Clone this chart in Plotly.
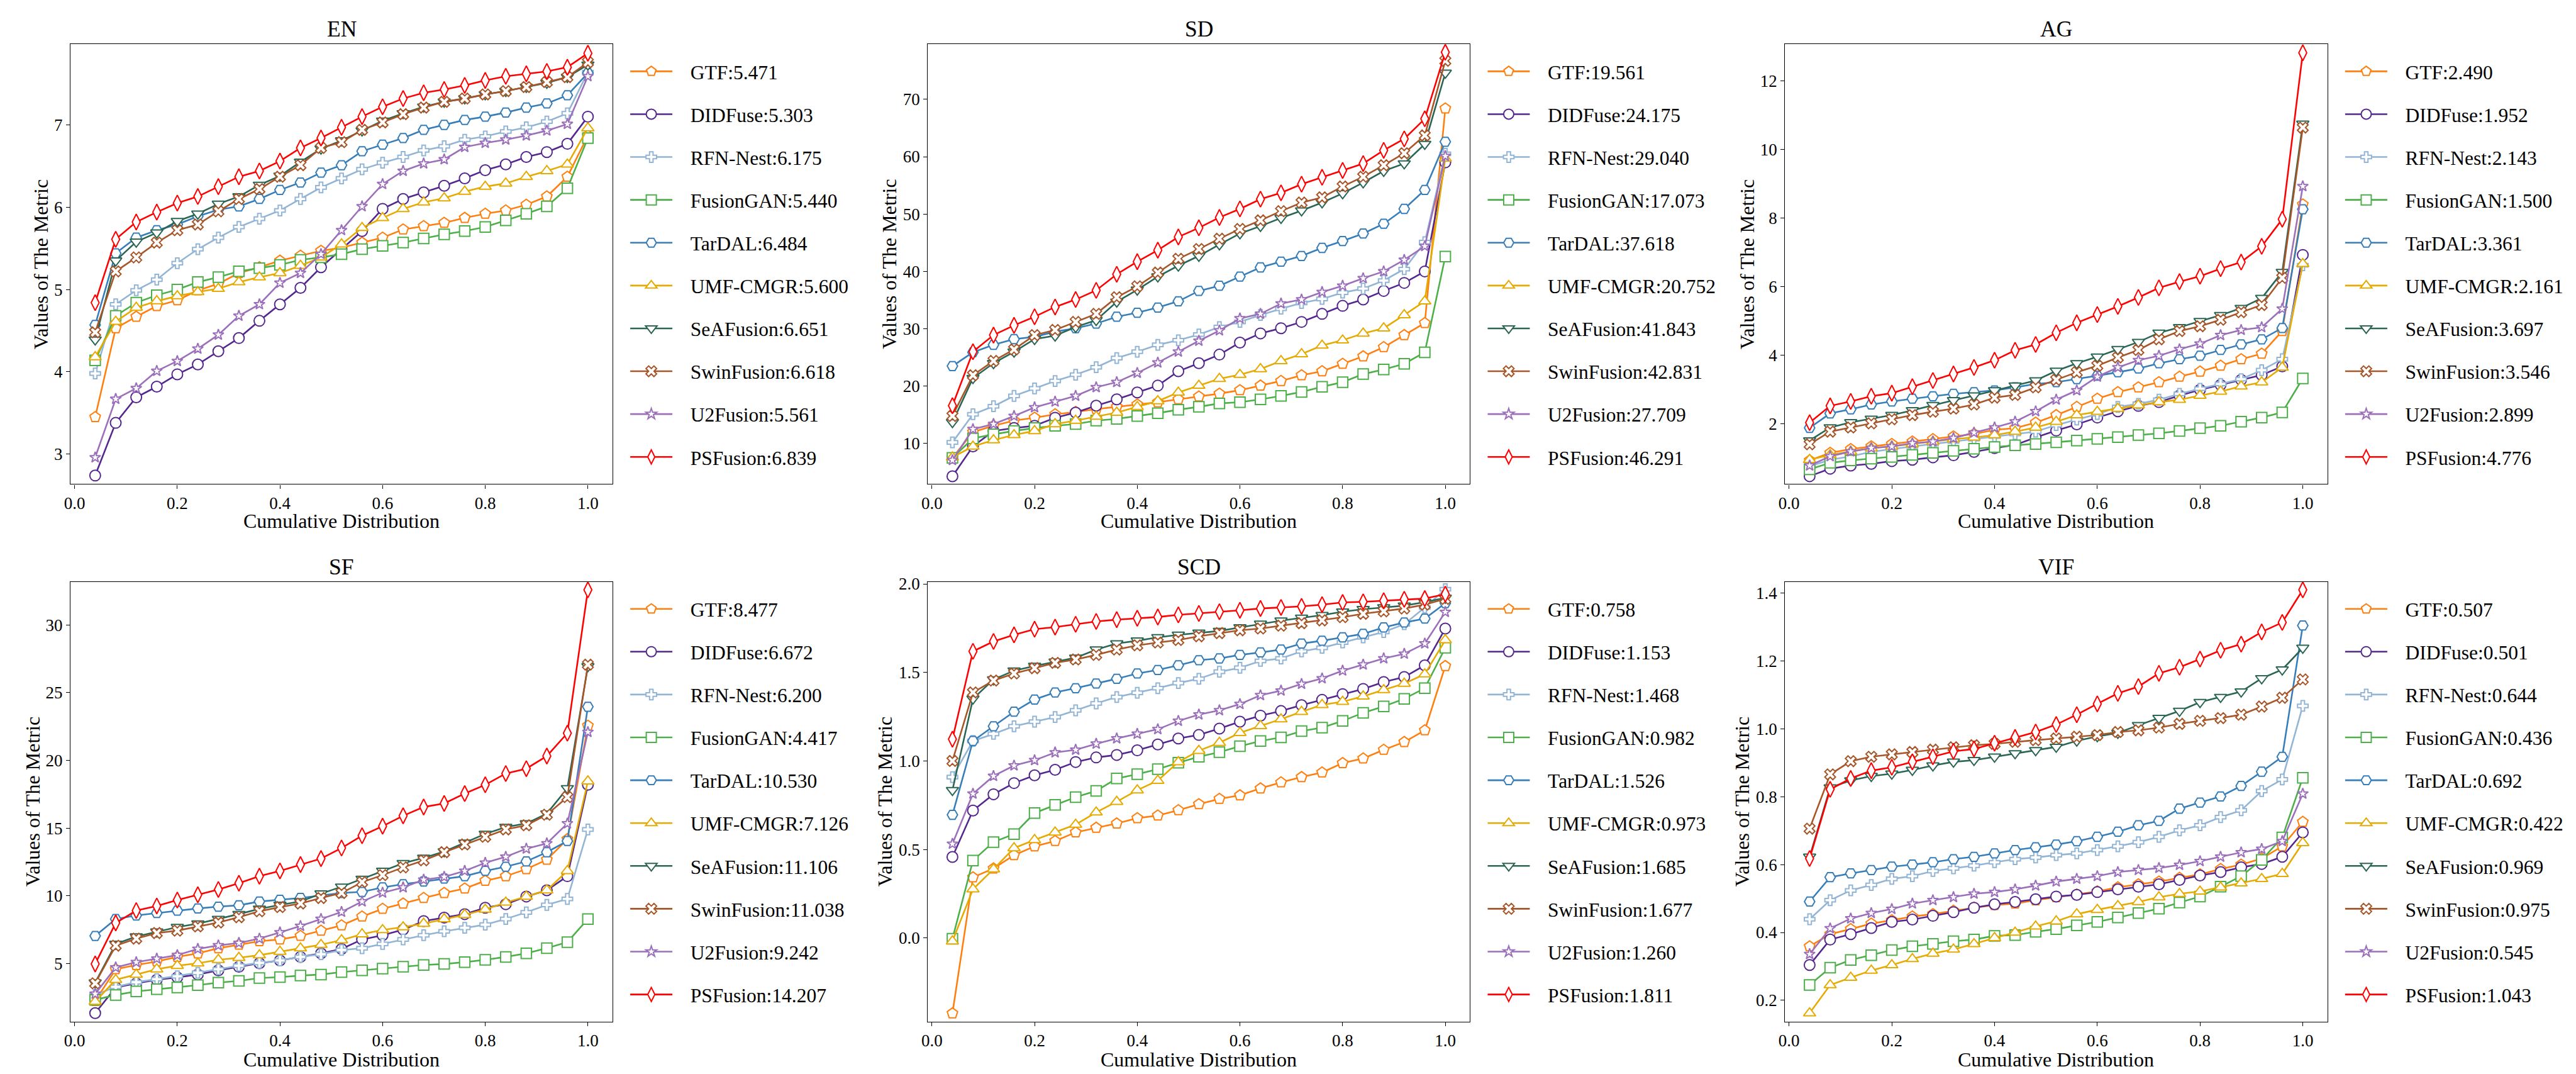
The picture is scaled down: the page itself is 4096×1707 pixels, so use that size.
import plotly.graph_objects as go

W, H = 4096, 1707
FONT = "Liberation Serif, Times New Roman, serif"

# ---------------- data ----------------
XS = [0.04, 0.08, 0.12, 0.16, 0.20, 0.24, 0.28, 0.32, 0.36, 0.40, 0.44, 0.48, 0.52,
      0.56, 0.60, 0.64, 0.68, 0.72, 0.76, 0.80, 0.84, 0.88, 0.92, 0.96, 1.00]

METHODS = ["GTF", "DIDFuse", "RFN-Nest", "FusionGAN", "TarDAL",
           "UMF-CMGR", "SeAFusion", "SwinFusion", "U2Fusion", "PSFusion"]

EN_GTF = [3.45, 4.53, 4.67, 4.80, 4.87, 4.99, 5.07, 5.20, 5.27, 5.35, 5.41, 5.47, 5.51, 5.57, 5.63, 5.73, 5.77, 5.81, 5.87, 5.92, 5.96, 6.03, 6.13, 6.37, 6.87]
EN_DIDFuse = [2.74, 3.38, 3.69, 3.82, 3.97, 4.09, 4.25, 4.41, 4.62, 4.82, 5.02, 5.27, 5.49, 5.71, 5.98, 6.10, 6.18, 6.26, 6.35, 6.45, 6.52, 6.61, 6.67, 6.77, 7.10]
EN_RFN = [3.98, 4.82, 4.99, 5.12, 5.32, 5.49, 5.63, 5.76, 5.86, 5.96, 6.10, 6.24, 6.35, 6.46, 6.54, 6.61, 6.69, 6.74, 6.82, 6.86, 6.92, 6.97, 7.04, 7.14, 7.64]
EN_FusionGAN = [4.14, 4.68, 4.84, 4.93, 5.00, 5.09, 5.15, 5.22, 5.26, 5.30, 5.36, 5.39, 5.43, 5.49, 5.53, 5.57, 5.62, 5.67, 5.71, 5.76, 5.84, 5.92, 6.01, 6.23, 6.84]
EN_TarDAL = [4.57, 5.44, 5.63, 5.72, 5.79, 5.89, 5.97, 6.01, 6.10, 6.21, 6.30, 6.42, 6.51, 6.68, 6.76, 6.84, 6.94, 7.00, 7.06, 7.10, 7.15, 7.21, 7.26, 7.36, 7.63]
EN_UMF = [4.18, 4.61, 4.78, 4.86, 4.92, 4.97, 5.01, 5.09, 5.15, 5.20, 5.29, 5.39, 5.55, 5.75, 5.87, 5.98, 6.06, 6.11, 6.19, 6.25, 6.29, 6.37, 6.44, 6.52, 6.96]
EN_SeAFusion = [4.39, 5.35, 5.58, 5.69, 5.83, 5.92, 6.04, 6.13, 6.27, 6.38, 6.55, 6.71, 6.81, 6.93, 7.05, 7.14, 7.22, 7.28, 7.32, 7.37, 7.41, 7.46, 7.51, 7.58, 7.73]
EN_SwinFusion = [4.48, 5.22, 5.39, 5.57, 5.72, 5.79, 5.95, 6.10, 6.22, 6.37, 6.51, 6.72, 6.79, 6.94, 7.03, 7.13, 7.21, 7.28, 7.32, 7.37, 7.41, 7.46, 7.52, 7.58, 7.76]
EN_U2Fusion = [2.96, 3.67, 3.80, 4.01, 4.13, 4.28, 4.45, 4.68, 4.82, 5.08, 5.20, 5.43, 5.72, 6.01, 6.28, 6.44, 6.53, 6.58, 6.73, 6.78, 6.82, 6.87, 6.93, 7.01, 7.59]
EN_PSFusion = [4.84, 5.61, 5.82, 5.94, 6.05, 6.13, 6.25, 6.37, 6.44, 6.56, 6.72, 6.84, 6.97, 7.10, 7.22, 7.32, 7.39, 7.43, 7.48, 7.54, 7.59, 7.62, 7.65, 7.70, 7.87]
EN_SCORES = ["5.471", "5.303", "6.175", "5.440", "6.484", "5.600", "6.651", "6.618", "5.561", "6.839"]

SD_GTF = [7.5, 12.0, 13.1, 14.0, 14.5, 15.1, 15.5, 16.0, 16.4, 16.8, 17.2, 17.7, 18.2, 18.7, 19.3, 20.1, 20.9, 21.9, 22.6, 23.9, 25.2, 26.8, 28.9, 31.0, 68.4]
SD_DIDFuse = [4.3, 9.5, 12.2, 12.7, 13.1, 14.5, 15.4, 16.6, 17.7, 18.9, 20.1, 22.6, 24.0, 25.5, 27.6, 29.2, 30.1, 31.2, 32.6, 34.0, 35.1, 36.6, 38.0, 40.0, 59.0]
SD_RFN = [10.2, 15.1, 16.5, 18.3, 19.6, 20.9, 22.0, 23.3, 24.9, 26.0, 27.2, 28.0, 29.0, 30.3, 31.2, 32.4, 33.5, 34.5, 35.2, 36.3, 37.0, 38.4, 40.4, 45.1, 60.5]
SD_FusionGAN = [7.5, 10.9, 11.6, 12.2, 12.7, 13.1, 13.4, 14.0, 14.3, 14.8, 15.3, 15.9, 16.4, 17.0, 17.2, 17.7, 18.3, 19.0, 19.9, 20.7, 22.1, 22.9, 23.9, 25.9, 42.6]
SD_TarDAL = [23.5, 25.9, 27.2, 28.2, 28.6, 29.5, 30.1, 30.9, 32.1, 32.8, 33.7, 34.8, 36.6, 37.5, 39.1, 40.7, 41.7, 42.7, 44.1, 45.3, 46.6, 48.3, 50.9, 54.2, 62.6]
SD_UMF = [7.6, 9.5, 10.6, 11.5, 12.2, 13.4, 14.0, 14.7, 15.4, 16.4, 17.4, 18.9, 20.1, 21.3, 22.0, 23.0, 24.4, 25.6, 27.1, 28.0, 29.2, 30.1, 32.4, 34.8, 59.7]
SD_SeAFusion = [13.7, 21.4, 24.0, 26.0, 28.2, 28.8, 30.3, 31.5, 34.7, 36.8, 39.1, 41.0, 42.7, 44.7, 46.6, 47.9, 49.3, 50.6, 52.0, 53.6, 55.5, 57.5, 58.8, 62.2, 74.6]
SD_SwinFusion = [14.8, 21.9, 24.4, 26.4, 28.9, 29.8, 31.2, 32.6, 35.5, 37.4, 39.8, 42.2, 43.9, 45.7, 47.4, 48.9, 50.5, 52.0, 52.9, 54.8, 56.5, 58.5, 60.6, 63.7, 76.7]
SD_U2Fusion = [7.1, 12.5, 13.4, 14.8, 16.3, 17.3, 18.3, 19.8, 20.7, 22.3, 24.1, 26.0, 27.9, 29.7, 31.8, 32.6, 34.4, 35.1, 36.4, 37.5, 38.8, 40.0, 42.0, 44.4, 60.1]
SD_PSFusion = [16.6, 26.0, 28.9, 30.6, 32.1, 33.8, 35.1, 36.7, 39.5, 41.7, 43.7, 46.0, 47.6, 49.4, 50.9, 52.6, 53.7, 55.2, 56.4, 57.6, 58.8, 61.1, 63.1, 66.6, 78.2]
SD_SCORES = ["19.561", "24.175", "29.040", "17.073", "37.618", "20.752", "41.843", "42.831", "27.709", "46.291"]

AG_GTF = [0.94, 1.16, 1.27, 1.35, 1.42, 1.49, 1.56, 1.64, 1.71, 1.83, 1.88, 2.04, 2.26, 2.50, 2.74, 2.93, 3.07, 3.22, 3.38, 3.53, 3.70, 3.89, 4.05, 4.71, 8.40]
AG_DIDFuse = [0.48, 0.70, 0.79, 0.84, 0.92, 0.96, 1.03, 1.09, 1.19, 1.30, 1.39, 1.61, 1.81, 1.99, 2.19, 2.37, 2.53, 2.64, 2.83, 3.00, 3.14, 3.29, 3.43, 3.68, 6.93]
AG_RFN = [0.77, 0.96, 1.06, 1.19, 1.27, 1.35, 1.42, 1.49, 1.56, 1.64, 1.71, 1.78, 1.97, 2.13, 2.29, 2.50, 2.59, 2.71, 2.88, 3.03, 3.17, 3.31, 3.57, 3.89, 6.63]
AG_FusionGAN = [0.68, 0.87, 0.94, 0.99, 1.04, 1.10, 1.16, 1.22, 1.28, 1.33, 1.38, 1.42, 1.47, 1.52, 1.57, 1.62, 1.68, 1.73, 1.80, 1.88, 1.95, 2.07, 2.19, 2.34, 3.33]
AG_TarDAL = [1.89, 2.31, 2.43, 2.57, 2.66, 2.74, 2.81, 2.88, 2.93, 2.98, 3.07, 3.17, 3.22, 3.31, 3.41, 3.51, 3.62, 3.77, 3.89, 3.99, 4.16, 4.32, 4.47, 4.80, 8.26]
AG_UMF = [0.96, 1.10, 1.20, 1.30, 1.35, 1.42, 1.49, 1.56, 1.61, 1.68, 1.78, 1.90, 2.07, 2.26, 2.36, 2.45, 2.55, 2.64, 2.71, 2.83, 2.95, 3.10, 3.22, 3.65, 6.67]
AG_SeAFusion = [1.52, 1.90, 2.05, 2.15, 2.26, 2.40, 2.55, 2.69, 2.83, 2.98, 3.12, 3.27, 3.55, 3.77, 3.96, 4.18, 4.39, 4.66, 4.82, 5.00, 5.17, 5.38, 5.67, 6.43, 10.75]
AG_SwinFusion = [1.41, 1.78, 1.90, 2.02, 2.14, 2.26, 2.36, 2.45, 2.57, 2.77, 2.85, 3.07, 3.29, 3.51, 3.70, 3.94, 4.16, 4.47, 4.71, 4.85, 5.04, 5.26, 5.47, 6.26, 10.64]
AG_U2Fusion = [0.79, 1.06, 1.20, 1.30, 1.35, 1.44, 1.49, 1.59, 1.75, 1.90, 2.07, 2.37, 2.71, 2.98, 3.38, 3.65, 3.86, 3.99, 4.18, 4.34, 4.59, 4.74, 4.82, 5.36, 8.93]
AG_PSFusion = [2.04, 2.53, 2.66, 2.81, 2.90, 3.09, 3.27, 3.46, 3.65, 3.86, 4.15, 4.32, 4.66, 4.95, 5.19, 5.43, 5.69, 5.97, 6.15, 6.31, 6.53, 6.72, 7.18, 7.97, 12.82]
AG_SCORES = ["2.490", "1.952", "2.143", "1.500", "3.361", "2.161", "3.697", "3.546", "2.899", "4.776"]

SF_GTF = [2.24, 4.58, 4.89, 5.15, 5.49, 5.75, 6.13, 6.39, 6.65, 6.78, 7.04, 7.43, 7.82, 8.47, 9.04, 9.43, 9.84, 10.21, 10.54, 11.11, 11.45, 11.97, 12.67, 14.18, 22.56]
SF_DIDFuse = [1.34, 3.23, 3.54, 3.80, 3.98, 4.19, 4.50, 4.76, 5.02, 5.23, 5.49, 5.75, 6.08, 6.78, 7.09, 7.51, 8.13, 8.39, 8.65, 9.12, 9.38, 9.95, 10.41, 11.45, 18.20]
SF_RFN = [2.68, 3.28, 3.62, 3.85, 4.06, 4.32, 4.58, 4.84, 5.05, 5.23, 5.49, 5.69, 6.00, 6.13, 6.45, 6.78, 7.09, 7.38, 7.64, 7.87, 8.29, 8.78, 9.33, 9.77, 14.90]
SF_FusionGAN = [2.32, 2.68, 2.94, 3.10, 3.23, 3.41, 3.59, 3.72, 3.93, 4.00, 4.11, 4.19, 4.37, 4.50, 4.63, 4.76, 4.89, 4.97, 5.10, 5.28, 5.49, 5.75, 6.13, 6.58, 8.29]
SF_TarDAL = [7.04, 8.29, 8.55, 8.73, 8.91, 9.07, 9.20, 9.30, 9.58, 9.71, 9.84, 10.03, 10.21, 10.29, 10.62, 10.86, 11.06, 11.27, 11.45, 11.84, 12.15, 12.54, 13.22, 14.05, 23.96]
SF_UMF = [2.19, 3.80, 4.19, 4.58, 4.84, 5.02, 5.28, 5.43, 5.62, 5.88, 6.13, 6.39, 6.73, 7.17, 7.48, 7.69, 7.95, 8.29, 8.60, 8.99, 9.51, 9.95, 10.41, 11.84, 18.46]
SF_SeAFusion = [3.59, 6.45, 6.99, 7.35, 7.69, 7.95, 8.29, 8.65, 9.04, 9.33, 9.58, 10.16, 10.67, 11.25, 11.84, 12.41, 12.80, 13.27, 13.92, 14.57, 15.08, 15.34, 16.07, 17.94, 26.94]
SF_SwinFusion = [3.54, 6.32, 6.84, 7.25, 7.43, 7.74, 8.03, 8.42, 8.86, 9.17, 9.43, 9.84, 10.21, 11.01, 11.53, 12.10, 12.62, 13.22, 13.79, 14.36, 14.90, 15.21, 15.99, 17.29, 27.07]
SF_U2Fusion = [2.76, 4.71, 5.10, 5.36, 5.62, 6.08, 6.34, 6.52, 6.84, 7.30, 7.77, 8.29, 8.81, 9.58, 10.23, 10.62, 11.19, 11.40, 11.84, 12.44, 12.88, 13.48, 13.87, 15.34, 22.09]
SF_PSFusion = [4.97, 8.00, 8.91, 9.25, 9.69, 10.08, 10.47, 10.93, 11.45, 11.84, 12.31, 12.75, 13.53, 14.44, 15.14, 15.91, 16.56, 16.82, 17.55, 18.20, 19.03, 19.39, 20.32, 22.01, 32.59]
SF_SCORES = ["8.477", "6.672", "6.200", "4.417", "10.530", "7.126", "11.106", "11.038", "9.242", "14.207"]

SCD_GTF = [-0.425, 0.343, 0.393, 0.468, 0.518, 0.548, 0.597, 0.623, 0.647, 0.677, 0.692, 0.722, 0.756, 0.786, 0.806, 0.845, 0.879, 0.909, 0.935, 0.988, 1.014, 1.063, 1.107, 1.173, 1.536]
SCD_DIDFuse = [0.458, 0.720, 0.812, 0.875, 0.919, 0.950, 0.994, 1.020, 1.034, 1.060, 1.093, 1.127, 1.147, 1.183, 1.222, 1.256, 1.282, 1.315, 1.345, 1.377, 1.407, 1.446, 1.474, 1.540, 1.748]
SCD_RFN = [0.909, 1.113, 1.153, 1.196, 1.222, 1.248, 1.286, 1.325, 1.361, 1.385, 1.411, 1.440, 1.464, 1.504, 1.526, 1.565, 1.579, 1.619, 1.639, 1.669, 1.698, 1.728, 1.772, 1.867, 1.970]
SCD_FusionGAN = [-0.004, 0.438, 0.542, 0.587, 0.706, 0.752, 0.796, 0.831, 0.901, 0.925, 0.954, 0.990, 1.024, 1.050, 1.083, 1.113, 1.133, 1.169, 1.188, 1.226, 1.272, 1.308, 1.351, 1.411, 1.639]
SCD_TarDAL = [0.696, 1.113, 1.196, 1.278, 1.347, 1.387, 1.411, 1.437, 1.464, 1.494, 1.514, 1.540, 1.569, 1.579, 1.599, 1.613, 1.629, 1.663, 1.679, 1.698, 1.718, 1.754, 1.782, 1.804, 1.891]
SCD_UMF = [-0.018, 0.276, 0.389, 0.508, 0.554, 0.597, 0.641, 0.710, 0.770, 0.835, 0.889, 0.994, 1.058, 1.103, 1.159, 1.198, 1.236, 1.278, 1.317, 1.335, 1.365, 1.401, 1.437, 1.490, 1.683]
SCD_SeAFusion = [0.835, 1.351, 1.460, 1.510, 1.536, 1.560, 1.583, 1.629, 1.663, 1.679, 1.698, 1.712, 1.724, 1.734, 1.754, 1.774, 1.792, 1.808, 1.823, 1.843, 1.857, 1.867, 1.877, 1.897, 1.921]
SCD_SwinFusion = [1.000, 1.387, 1.454, 1.494, 1.524, 1.554, 1.573, 1.599, 1.629, 1.653, 1.669, 1.683, 1.704, 1.722, 1.738, 1.748, 1.764, 1.778, 1.794, 1.812, 1.831, 1.845, 1.861, 1.883, 1.915]
SCD_U2Fusion = [0.532, 0.815, 0.915, 0.974, 1.004, 1.048, 1.063, 1.097, 1.127, 1.153, 1.179, 1.226, 1.262, 1.286, 1.321, 1.371, 1.397, 1.435, 1.466, 1.510, 1.544, 1.579, 1.605, 1.663, 1.841]
SCD_PSFusion = [1.123, 1.619, 1.675, 1.712, 1.744, 1.756, 1.772, 1.788, 1.798, 1.806, 1.813, 1.825, 1.833, 1.843, 1.851, 1.861, 1.867, 1.873, 1.883, 1.895, 1.899, 1.905, 1.913, 1.917, 1.942]
SCD_SCORES = ["0.758", "1.153", "1.468", "0.982", "1.526", "0.973", "1.685", "1.677", "1.260", "1.811"]

VIF_GTF = [0.359, 0.395, 0.410, 0.426, 0.436, 0.447, 0.454, 0.464, 0.473, 0.481, 0.485, 0.495, 0.504, 0.512, 0.521, 0.533, 0.542, 0.550, 0.561, 0.571, 0.587, 0.600, 0.618, 0.654, 0.726]
VIF_DIDFuse = [0.304, 0.379, 0.395, 0.413, 0.431, 0.438, 0.449, 0.460, 0.473, 0.483, 0.490, 0.498, 0.506, 0.511, 0.519, 0.527, 0.535, 0.542, 0.555, 0.568, 0.578, 0.592, 0.602, 0.623, 0.695]
VIF_RFN = [0.439, 0.495, 0.524, 0.540, 0.558, 0.566, 0.581, 0.589, 0.597, 0.607, 0.616, 0.621, 0.628, 0.633, 0.643, 0.654, 0.666, 0.682, 0.701, 0.716, 0.740, 0.760, 0.817, 0.851, 1.068]
VIF_FusionGAN = [0.245, 0.296, 0.319, 0.333, 0.348, 0.359, 0.366, 0.374, 0.379, 0.390, 0.392, 0.402, 0.410, 0.421, 0.431, 0.444, 0.457, 0.470, 0.488, 0.506, 0.535, 0.566, 0.614, 0.680, 0.856]
VIF_TarDAL = [0.491, 0.563, 0.574, 0.584, 0.594, 0.600, 0.607, 0.616, 0.623, 0.633, 0.643, 0.651, 0.659, 0.669, 0.682, 0.697, 0.716, 0.729, 0.765, 0.783, 0.801, 0.832, 0.874, 0.918, 1.305]
VIF_UMF = [0.162, 0.245, 0.267, 0.288, 0.304, 0.322, 0.338, 0.350, 0.366, 0.384, 0.400, 0.418, 0.433, 0.454, 0.467, 0.478, 0.490, 0.504, 0.514, 0.521, 0.533, 0.545, 0.558, 0.573, 0.664]
VIF_SeAFusion = [0.623, 0.827, 0.848, 0.861, 0.868, 0.879, 0.892, 0.903, 0.908, 0.918, 0.928, 0.937, 0.947, 0.965, 0.978, 0.988, 1.011, 1.032, 1.053, 1.079, 1.094, 1.110, 1.149, 1.175, 1.239]
VIF_SwinFusion = [0.706, 0.866, 0.905, 0.918, 0.925, 0.932, 0.939, 0.946, 0.952, 0.956, 0.962, 0.967, 0.972, 0.977, 0.982, 0.991, 0.996, 1.004, 1.015, 1.024, 1.032, 1.042, 1.066, 1.092, 1.146]
VIF_U2Fusion = [0.336, 0.412, 0.441, 0.457, 0.469, 0.485, 0.495, 0.504, 0.514, 0.519, 0.527, 0.538, 0.550, 0.558, 0.566, 0.578, 0.584, 0.590, 0.599, 0.610, 0.623, 0.636, 0.646, 0.669, 0.809]
VIF_PSFusion = [0.618, 0.822, 0.854, 0.877, 0.887, 0.903, 0.918, 0.934, 0.941, 0.958, 0.975, 0.991, 1.013, 1.042, 1.074, 1.105, 1.125, 1.164, 1.182, 1.206, 1.232, 1.250, 1.286, 1.314, 1.410]
VIF_SCORES = ["0.507", "0.501", "0.644", "0.436", "0.692", "0.422", "0.969", "0.975", "0.545", "1.043"]

X_TICKS = [0.0, 0.2, 0.4, 0.6, 0.8, 1.0]
EN_TICKS = [3, 4, 5, 6, 7]
SD_TICKS = [10, 20, 30, 40, 50, 60, 70]
AG_TICKS = [2, 4, 6, 8, 10, 12]
SF_TICKS = [5, 10, 15, 20, 25, 30]
SCD_TICKS = [0.0, 0.5, 1.0, 1.5, 2.0]
VIF_TICKS = [0.2, 0.4, 0.6, 0.8, 1.0, 1.2, 1.4]

PANELS = [
    ("EN", [EN_GTF, EN_DIDFuse, EN_RFN, EN_FusionGAN, EN_TarDAL, EN_UMF, EN_SeAFusion, EN_SwinFusion, EN_U2Fusion, EN_PSFusion], EN_SCORES, EN_TICKS, "d", [2.636, 7.98]),
    ("SD", [SD_GTF, SD_DIDFuse, SD_RFN, SD_FusionGAN, SD_TarDAL, SD_UMF, SD_SeAFusion, SD_SwinFusion, SD_U2Fusion, SD_PSFusion], SD_SCORES, SD_TICKS, "d", [2.93, 79.6]),
    ("AG", [AG_GTF, AG_DIDFuse, AG_RFN, AG_FusionGAN, AG_TarDAL, AG_UMF, AG_SeAFusion, AG_SwinFusion, AG_U2Fusion, AG_PSFusion], AG_SCORES, AG_TICKS, "d", [0.25, 13.07]),
    ("SF", [SF_GTF, SF_DIDFuse, SF_RFN, SF_FusionGAN, SF_TarDAL, SF_UMF, SF_SeAFusion, SF_SwinFusion, SF_U2Fusion, SF_PSFusion], SF_SCORES, SF_TICKS, "d", [0.71, 33.19]),
    ("SCD", [SCD_GTF, SCD_DIDFuse, SCD_RFN, SCD_FusionGAN, SCD_TarDAL, SCD_UMF, SCD_SeAFusion, SCD_SwinFusion, SCD_U2Fusion, SCD_PSFusion], SCD_SCORES, SCD_TICKS, ".1f", [-0.472, 2.012]),
    ("VIF", [VIF_GTF, VIF_DIDFuse, VIF_RFN, VIF_FusionGAN, VIF_TarDAL, VIF_UMF, VIF_SeAFusion, VIF_SwinFusion, VIF_U2Fusion, VIF_PSFusion], VIF_SCORES, VIF_TICKS, ".1f", [0.137, 1.434]),
]

# ---------------- styles ----------------
COLORS = ["#ff7f0e", "#54278f", "#93b5d5", "#4daf4a", "#377eb8",
          "#e6ab02", "#2b6655", "#a65628", "#9b6fba", "#ff0000"]
SYMBOLS = ["pentagon", "circle", "cross", "square", "hexagon2",
           "triangle-up", "triangle-down", "x", "star", "diamond-tall"]
MSIZES = [17.5, 17, 14, 16.5, 16.5, 17, 17, 15, 13, 18]

COL_X = [(94.4, 958.3), (1460.8, 2325.0), (2827.1, 3691.8)]
ROW_Y = [(51.6, 755.3), (911.5, 1615.2)]
TITLE_Y = [27.5, 887.8]
XTITLE_Y = [814.0, 1675.6]
YTITLE_X = [[46.5, 1399.4, 2766.2], [34.2, 1392.5, 2758.8]]
LEG_LINE_START = 28.2
LEG_FONT = 31.5
LEG_ROW = 68.1

def px(x):
    return x / W

def py(y):
    return 1 - y / H

fig = go.Figure()
layout = dict(
    width=W, height=H, margin=dict(l=0, r=0, t=0, b=0),
    paper_bgcolor="white", plot_bgcolor="white",
    font=dict(family=FONT, color="black", size=27),
    showlegend=True, annotations=[],
)

for p, (name, series, scores, yticks, yfmt, yrange) in enumerate(PANELS):
    r, c = divmod(p, 3)
    ax = "" if p == 0 else str(p + 1)
    leg = "legend" if p == 0 else "legend%d" % (p + 1)
    for k, m in enumerate(METHODS):
        fig.add_trace(go.Scatter(
            x=XS, y=series[k], mode="lines+markers",
            name="\u00a0\u00a0\u00a0" + m + ":" + scores[k],
            legend=leg, legendgroup=name + m,
            xaxis="x" + ax, yaxis="y" + ax,
            line=dict(color=COLORS[k], width=2.6),
            marker=dict(symbol=SYMBOLS[k], size=MSIZES[k], color="white",
                        line=dict(color=COLORS[k], width=2)),
        ))
    x0, x1 = COL_X[c]
    y0, y1 = ROW_Y[r]
    common = dict(showline=True, linecolor="black", linewidth=1.3, mirror=True,
                  ticks="outside", ticklen=6, tickwidth=1.3, tickcolor="black",
                  showgrid=False, zeroline=False,
                  tickfont=dict(family=FONT, size=27, color="black"))
    layout["xaxis" + ax] = dict(domain=[px(x0), px(x1)], anchor="y" + ax,
                                range=[-0.008, 1.048], tickvals=X_TICKS,
                                tickformat=".1f", **common)
    layout["yaxis" + ax] = dict(domain=[py(y1), py(y0)], anchor="x" + ax,
                                range=yrange, tickvals=yticks,
                                tickformat=yfmt, **common)
    layout[leg] = dict(
        x=px(x1 + LEG_LINE_START - 5), xanchor="left",
        y=py((y0 + y1) / 2), yanchor="middle",
        font=dict(family=FONT, size=LEG_FONT, color="black"),
        bgcolor="rgba(0,0,0,0)", borderwidth=0,
        itemwidth=67, tracegroupgap=LEG_ROW - (LEG_FONT * 1.3 + 3),
        traceorder="grouped",
    )
    cx = (x0 + x1) / 2
    layout["annotations"] += [
        dict(text=name, x=px(cx), y=py(TITLE_Y[r]), xref="paper", yref="paper",
             xanchor="center", yanchor="middle", showarrow=False,
             font=dict(family=FONT, size=35.5, color="black")),
        dict(text="Cumulative Distribution", x=px(cx), y=py(XTITLE_Y[r]),
             xref="paper", yref="paper", xanchor="center", yanchor="middle",
             showarrow=False, font=dict(family=FONT, size=32, color="black")),
        dict(text="Values of The Metric", x=px(YTITLE_X[r][c]), y=py((y0 + y1) / 2),
             xref="paper", yref="paper", xanchor="center", yanchor="middle",
             textangle=-90, showarrow=False,
             font=dict(family=FONT, size=32, color="black")),
    ]

fig.update_layout(**layout)
fig.write_html("out.html")
